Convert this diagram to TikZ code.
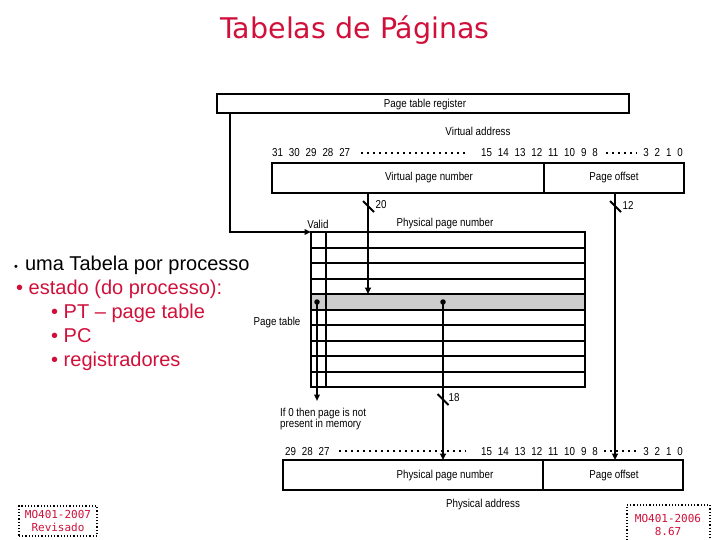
\documentclass[tikz,border=0pt]{standalone}
\usepackage{fontspec}
\setmainfont{Liberation Sans}
\newfontfamily\narrowfont[FakeStretch=0.85]{Liberation Sans}
\newfontfamily\titlefont{DejaVu Sans}
\newfontfamily\stampfont{DejaVu Sans Mono}
\usetikzlibrary{arrows.meta}
\definecolor{crim}{HTML}{D0103A}
\definecolor{rowgray}{HTML}{CCCCCC}
\newcommand\bg{\hspace{5.9pt}}
\begin{document}
\begin{tikzpicture}[x=1pt,y=-1pt,
  lbl/.style={font=\narrowfont\fontsize{11.5}{12}\selectfont, inner sep=0pt},
  boxr/.style={draw, line width=1.6pt, inner sep=0pt, outer sep=0pt},
  bus/.style={line width=2.4pt, -{Triangle[length=6.5pt,width=6pt]}},
  thinbus/.style={line width=1.8pt, -{Triangle[length=6.5pt,width=5.5pt]}},
  tick/.style={line width=2pt},
  bitdots/.style={line width=2.2pt, dash pattern=on 2.2pt off 3.8pt},
  tline/.style={line width=2pt},
  bigtxt/.style={font=\fontsize{20}{22}\selectfont, inner sep=0pt, anchor=base west},
  stamp/.style={font=\stampfont\fontsize{11}{13}\selectfont, text=crim, inner sep=0pt, align=center},
  dotbox/.style={draw, dotted, line width=1.2pt, inner sep=0pt, outer sep=0pt}]

\useasboundingbox (0,0) rectangle (720,540);

% title
\node[font=\titlefont\fontsize{28.5}{30}\selectfont, text=crim, anchor=base, inner sep=0pt] (title) at (355,39) {Tabelas de Páginas};

% page table register
\node[boxr, minimum width=412pt, minimum height=19pt] (ptr) at (423,103.5) {};
\node[lbl] (ptrl) at (425,104.5) {Page table register};

% virtual address
\node[lbl] (vaddr) at (478,131) {Virtual address};
\node[lbl, anchor=base west] (vb1) at (272,157) {31\bg30\bg29\bg28\bg27};
\node[lbl, anchor=base east] (vb2) at (598,157) {15\bg14\bg13\bg12\bg11\bg10\bg9\bg8};
\node[lbl, anchor=base east] (vb3) at (683,157) {3\bg2\bg1\bg0};
\draw[bitdots] (361,153) -- (467,153);
\draw[bitdots] (606,153) -- (637,153);
\node[boxr, minimum width=272pt, minimum height=30.5pt] (vpn) at (408,178) {};
\node[boxr, minimum width=140pt, minimum height=30.5pt] (voff) at (614,178) {};
\node[lbl] (vpnl) at (429,178) {Virtual page number};
\node[lbl] (voffl) at (614,178) {Page offset};

% page table
\fill[rowgray] (311,294) rectangle (585,309.5);
\node[draw, line width=2pt, minimum width=274pt, minimum height=155pt, inner sep=0pt, outer sep=0pt] (pt) at (448,309.5) {};
\foreach \i in {1,...,9} \draw[tline] (311,{232+15.5*\i}) -- (585,{232+15.5*\i});
\draw[tline] (326,232) -- (326,387);
\node[lbl] (valid) at (318,224) {Valid};
\node[lbl] (ppnhead) at (445,224) {Physical page number};
\node[lbl] (ptl) at (277,323) {Page table};

% register -> table
\coordinate (r0) at (230,113);
\draw[thinbus] (r0) |- (pt.north west);

% virtual page number -> row
\coordinate (v0) at (368,193.3);
\coordinate (v1) at (368,294);
\draw[bus] (v0) -- (v1);
\draw[tick] (363,201) -- (374,212);
\node[lbl] (n20) at (381,205) {20};

% page offset
\coordinate (o0) at (615,193.3);
\coordinate (o1) at (615,460);
\draw[bus] (o0) -- (o1);
\draw[tick] (610,201) -- (621,212);
\node[lbl] (n12) at (628,205) {12};

% dots in the selected row
\node[circle, fill, inner sep=0pt, minimum size=5.5pt] (vd) at (317,302) {};
\node[circle, fill, inner sep=0pt, minimum size=5.5pt] (pd) at (443,302) {};
\coordinate (vt) at (317,401);
\coordinate (pt2) at (443,460);
\draw[thinbus] (vd.center) -- (vt);
\draw[bus] (pd.center) -- (pt2);
\draw[tick] (437.5,394) -- (448.5,405);
\node[lbl] (n18) at (454,398) {18};
\node[lbl, align=left, anchor=north west, font=\narrowfont\fontsize{11.5}{11}\selectfont] (ifz) at (280,408) {If 0 then page is not\\present in memory};

% physical address
\node[lbl, anchor=base west] (pb1) at (285,455) {29\bg28\bg27};
\node[lbl, anchor=base east] (pb2) at (598,455) {15\bg14\bg13\bg12\bg11\bg10\bg9\bg8};
\node[lbl, anchor=base east] (pb3) at (683,455) {3\bg2\bg1\bg0};
\draw[bitdots] (339,451) -- (466,451);
\draw[bitdots] (604,451) -- (637,451);
\node[boxr, minimum width=260pt, minimum height=30pt] (ppn) at (413,475) {};
\node[boxr, minimum width=140pt, minimum height=30pt] (poff) at (613,475) {};
\node[lbl] (ppnl) at (445,476) {Physical page number};
\node[lbl] (poffl) at (614,476) {Page offset};
\node[lbl] (paddr) at (483,505) {Physical address};

% left text
\node[bigtxt] (l1) at (14,270) {{\fontsize{11}{11}\selectfont •}\hspace{7pt}uma Tabela por processo};
\node[bigtxt, text=crim] (l2) at (16,294) {• estado (do processo):};
\node[bigtxt, text=crim] (l3) at (51,318) {• PT – page table};
\node[bigtxt, text=crim] (l4) at (51,342) {• PC};
\node[bigtxt, text=crim] (l5) at (51,366) {• registradores};

% stamps
\node[dotbox, minimum width=78pt, minimum height=30pt] (s1) at (58,521) {};
\node[stamp] (s1t) at (58,521) {MO401-2007\\Revisado};
\node[dotbox, minimum width=83pt, minimum height=40pt] (s2) at (668.5,525) {};
\node[stamp] (s2t) at (668,524.5) {MO401-2006\\8.67};
\end{tikzpicture}
\end{document}
